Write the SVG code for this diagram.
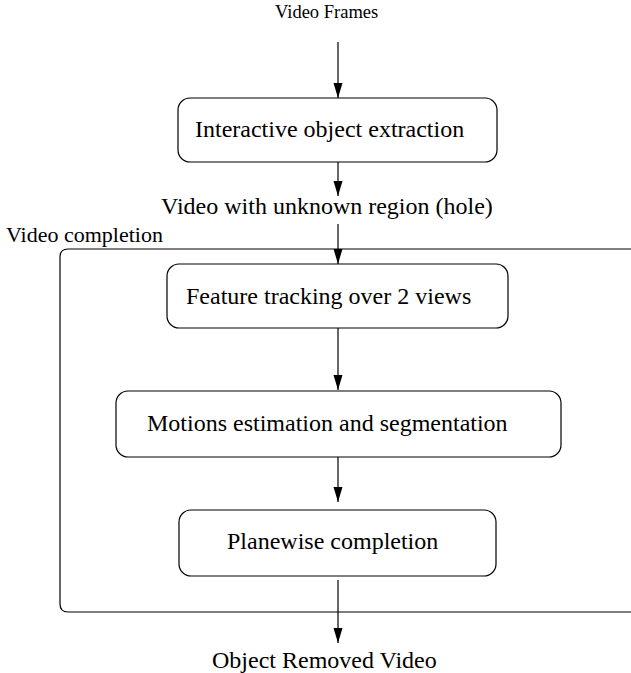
<svg xmlns="http://www.w3.org/2000/svg" width="631" height="673" viewBox="0 0 631 673">
<defs>
<marker id="ah" markerUnits="userSpaceOnUse" markerWidth="16" markerHeight="10" refX="15" refY="5" orient="auto" viewBox="0 0 16 10">
<path d="M0,0.5 L15,5 L0,9.5 Z" fill="#000"/>
</marker>
<style>
.box{fill:#fff;stroke:#000;stroke-width:1.2}
.frame{fill:none;stroke:#000;stroke-width:1.2}
.t{font-family:"Liberation Serif","Times New Roman",serif;font-size:24px;fill:#000}
.conn line{stroke:#000;stroke-width:1.2}
</style>
</defs>
<rect width="631" height="673" fill="#fff"/>
<g id="video-completion">
<path class="frame" d="M640,249 L68,249 Q60,249 60,257 L60,604 Q60,612 68,612 L640,612"/>
<text class="t" x="6" y="242" style="font-size:22px">Video completion</text>
</g>
<g id="video-frames"><text class="t" x="275" y="18" style="font-size:18.5px">Video Frames</text></g>
<g id="extraction">
<rect class="box" x="178" y="98" width="319" height="64" rx="12"/>
<text class="t" x="195" y="137">Interactive object extraction</text>
</g>
<g id="hole-video"><text class="t" x="161" y="214">Video with unknown region (hole)</text></g>
<g id="tracking">
<rect class="box" x="167" y="264" width="341" height="64" rx="12"/>
<text class="t" x="186" y="304">Feature tracking over 2 views</text>
</g>
<g id="motions">
<rect class="box" x="116" y="391" width="445" height="66" rx="12"/>
<text class="t" x="147" y="431">Motions estimation and segmentation</text>
</g>
<g id="planewise">
<rect class="box" x="179" y="510" width="317" height="66" rx="12"/>
<text class="t" x="227" y="549">Planewise completion</text>
</g>
<g id="removed"><text class="t" x="212" y="668">Object Removed Video</text></g>
<g class="conn" id="connectors">
<line x1="338" y1="42" x2="338" y2="98" marker-end="url(#ah)"/>
<line x1="338" y1="162" x2="338" y2="196" marker-end="url(#ah)"/>
<line x1="338" y1="224" x2="338" y2="264" marker-end="url(#ah)"/>
<line x1="338" y1="328" x2="338" y2="390" marker-end="url(#ah)"/>
<line x1="338" y1="457" x2="338" y2="502" marker-end="url(#ah)"/>
<line x1="338" y1="580" x2="338" y2="643" marker-end="url(#ah)"/>
</g>
</svg>
